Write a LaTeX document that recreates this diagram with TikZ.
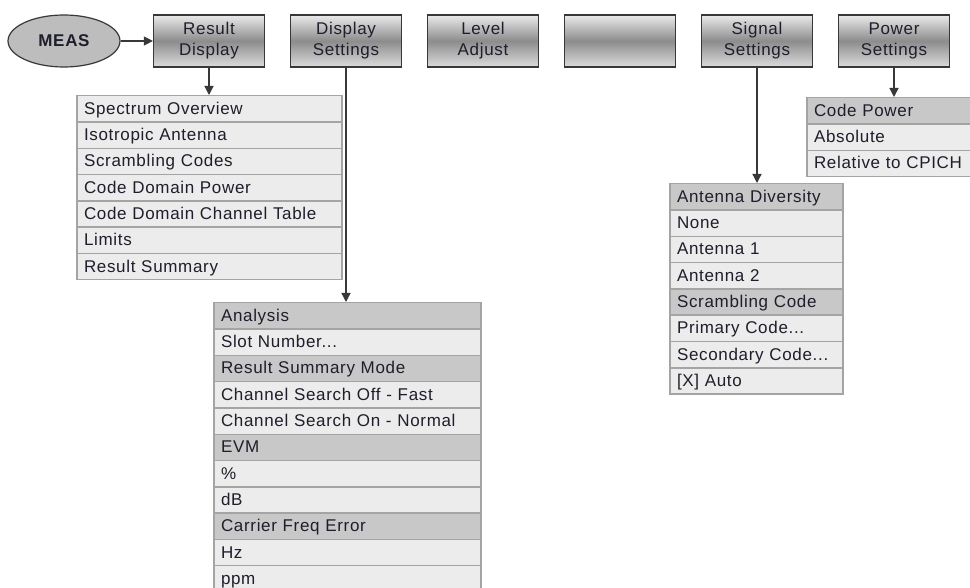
\documentclass[tikz,border=0pt]{standalone}
\usepackage{fontspec}
\setmainfont{Liberation Sans}
\newfontfamily\menufont[LetterSpace=4]{Liberation Sans}
\usetikzlibrary{arrows.meta,shapes.geometric}
\definecolor{ink}{HTML}{1E1E2C}
\definecolor{edge}{HTML}{383838}
\definecolor{rowline}{HTML}{A4A4A4}
\definecolor{headfill}{HTML}{C8C8C8}
\definecolor{itemfill}{HTML}{ECECEC}
\definecolor{measfill}{HTML}{BDBDBD}
\definecolor{btntop}{HTML}{EAEAEA}
\definecolor{btnmid}{HTML}{8C8C8C}
\definecolor{btnbot}{HTML}{DCDCDC}
\newcommand{\moredots}{...}
\tikzset{
  softkey/.style={
    draw=edge,
    line width=1.2pt,
    top color=btntop,
    bottom color=btnbot,
    middle color=btnmid,
    minimum width=111pt,
    minimum height=52pt,
    inner sep=0pt,
    align=center,
    font=\menufont\fontsize{17}{21}\selectfont,
    text=ink
  },
  measkey/.style={
    ellipse,
    draw=edge,
    line width=1.2pt,
    fill=measfill,
    minimum width=112pt,
    minimum height=52pt,
    font=\menufont\bfseries\fontsize{17}{21}\selectfont,
    text=ink
  },
  menurow/.style={
    draw=rowline,
    line width=1.4pt,
    anchor=north,
    minimum height=26.3pt,
    inner xsep=7pt,
    inner ysep=0pt,
    text height=14pt,
    text depth=3pt,
    align=left,
    font=\menufont\fontsize{17}{21}\selectfont,
    text=ink
  },
  flow/.style={
    draw=edge,
    line width=1.3pt,
    -{Triangle[length=9pt,width=9pt]}
  }
}

\begin{document}
\begin{tikzpicture}[x=1pt,y=-1pt]

% Background
\useasboundingbox (0,0) rectangle (970,588);
\fill[white] (0,0) rectangle (970,588);
\clip (0,0) rectangle (970,588);

% ---------- Soft keys ----------
\node[measkey] (meas) at (64,41) {MEAS};
\node[softkey] (rdisp) at (209,41) {Result\\Display};
\node[softkey] (dset) at (346,41) {Display\\Settings};
\node[softkey] (ladj) at (483,41) {Level\\Adjust};
\node[softkey] (blank) at (620,41) {};
\node[softkey] (sset) at (757,41) {Signal\\Settings};
\node[softkey] (pset) at (894,41) {Power\\Settings};

% ---------- Menus ----------

% result display
\foreach \i/\txt/\tone in {
  1/Spectrum Overview/itemfill,
  2/Isotropic Antenna/itemfill,
  3/Scrambling Codes/itemfill,
  4/Code Domain Power/itemfill,
  5/Code Domain Channel Table/itemfill,
  6/Limits/itemfill,
  7/Result Summary/itemfill%
}{
  \node[menurow, fill=\tone, text width=251pt] (rd\i) at (209.5,{95+(\i-1)*26.3}) {\txt};
}

% display settings
\foreach \i/\txt/\tone in {
  1/Analysis/headfill,
  2/Slot Number\moredots/itemfill,
  3/Result Summary Mode/headfill,
  4/Channel Search Off - Fast/itemfill,
  5/Channel Search On - Normal/itemfill,
  6/EVM/headfill,
  7/\%/itemfill,
  8/dB/itemfill,
  9/Carrier Freq Error/headfill,
  10/Hz/itemfill,
  11/ppm/itemfill%
}{
  \node[menurow, fill=\tone, text width=253pt] (ds\i) at (347.5,{302+(\i-1)*26.3}) {\txt};
}

% signal settings
\foreach \i/\txt/\tone in {
  1/Antenna Diversity/headfill,
  2/None/itemfill,
  3/Antenna 1/itemfill,
  4/Antenna 2/itemfill,
  5/Scrambling Code/headfill,
  6/Primary Code\moredots/itemfill,
  7/Secondary Code\moredots/itemfill,
  8/{[X] Auto}/itemfill%
}{
  \node[menurow, fill=\tone, text width=159pt] (ss\i) at (756.5,{183+(\i-1)*26.3}) {\txt};
}

% power settings
\foreach \i/\txt/\tone in {
  1/Code Power/headfill,
  2/Absolute/itemfill,
  3/Relative to CPICH/itemfill%
}{
  \node[menurow, fill=\tone, text width=160pt] (ps\i) at (894,{97+(\i-1)*26.3}) {\txt};
}

% ---------- Arrows ----------
\draw[flow] (meas) -- (rdisp);
\draw[flow] (rdisp.south) -- (rdisp.south |- rd1.north);
\draw[flow] (dset.south) -- (dset.south |- ds1.north);
\draw[flow] (sset.south) -- (sset.south |- ss1.north);
\draw[flow] (pset.south) -- (pset.south |- ps1.north);

\end{tikzpicture}
\end{document}
